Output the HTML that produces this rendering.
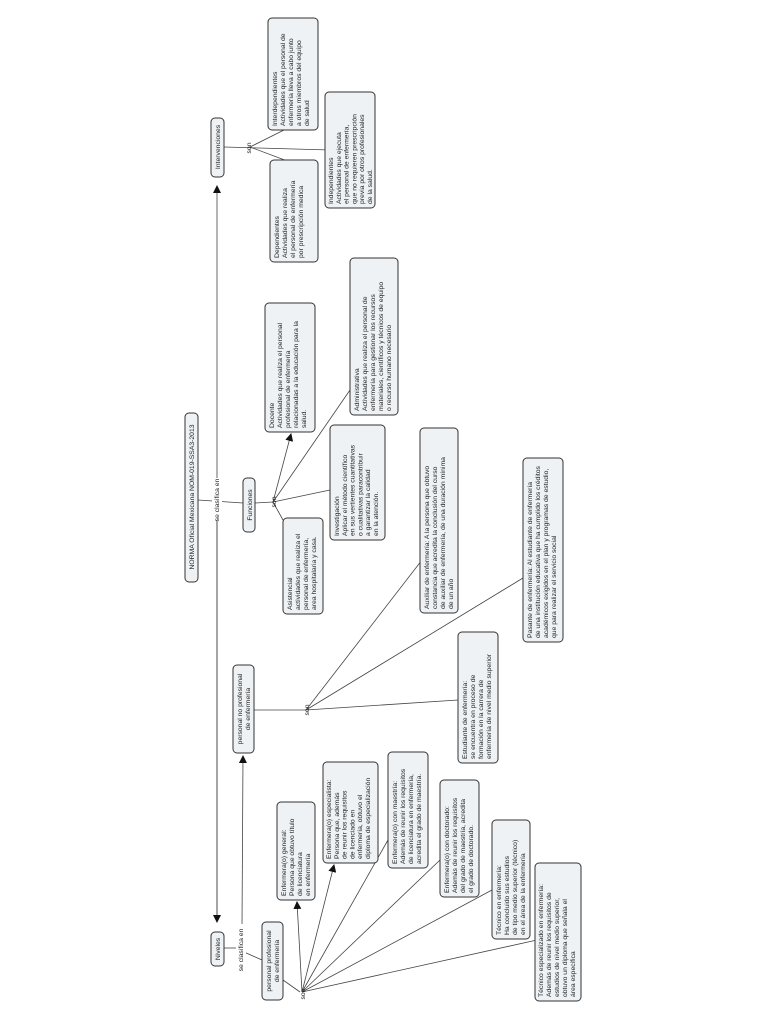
<!DOCTYPE html>
<html><head><meta charset="utf-8"><style>
html,body{margin:0;padding:0;background:#fff;}
svg{display:block;}
text{font-family:"Liberation Sans",sans-serif;font-size:6.8px;fill:#222;}
.b{fill:#eef2f5;stroke:#333;stroke-width:1;}
.l{stroke:#444;stroke-width:0.8;fill:none;}
</style></head><body>
<svg width="768" height="1024" viewBox="0 0 768 1024" xmlns="http://www.w3.org/2000/svg">
<defs><marker id="a" markerWidth="8" markerHeight="8" refX="7" refY="4" orient="auto" markerUnits="userSpaceOnUse"><path d="M0,0 L8,4 L0,8 z" fill="#111"/></marker></defs>

<line class="l" x1="217" y1="918" x2="217" y2="186" marker-end="url(#a)"/>
<line class="l" x1="217" y1="480" x2="217" y2="922" marker-end="url(#a)"/>
<line class="l" x1="198" y1="500" x2="243" y2="503"/>
<line class="l" x1="224" y1="147" x2="330" y2="150"/>
<line class="l" x1="250" y1="147" x2="288" y2="128"/>
<line class="l" x1="250" y1="147" x2="290" y2="162"/>
<line class="l" x1="255" y1="503" x2="273" y2="502"/>
<line class="l" x1="273" y1="502" x2="291" y2="434" marker-end="url(#a)"/>
<line class="l" x1="273" y1="502" x2="350" y2="390"/>
<line class="l" x1="273" y1="502" x2="330" y2="490"/>
<line class="l" x1="273" y1="502" x2="283" y2="520"/>
<line class="l" x1="224" y1="948" x2="236" y2="948"/>
<line class="l" x1="244" y1="952" x2="262" y2="960"/>
<line class="l" x1="242" y1="926" x2="243" y2="756" marker-end="url(#a)"/>
<line class="l" x1="254" y1="710" x2="306" y2="710"/>
<line class="l" x1="306" y1="710" x2="458" y2="700"/>
<line class="l" x1="306" y1="710" x2="422" y2="560"/>
<line class="l" x1="306" y1="710" x2="523" y2="578"/>
<line class="l" x1="283" y1="980" x2="300" y2="992"/>
<line class="l" x1="302" y1="992" x2="297" y2="902" marker-end="url(#a)"/>
<line class="l" x1="302" y1="992" x2="334" y2="865" marker-end="url(#a)"/>
<line class="l" x1="302" y1="992" x2="388" y2="840"/>
<line class="l" x1="302" y1="992" x2="440" y2="860"/>
<line class="l" x1="302" y1="992" x2="492" y2="890"/>
<line class="l" x1="302" y1="992" x2="537" y2="940"/>

<rect x="212" y="478" width="10" height="42" fill="#fff"/>
<text transform="translate(219,500) rotate(-90)" text-anchor="middle">se clasifica en</text>
<rect x="236" y="924" width="10" height="50" fill="#fff"/>
<text transform="translate(243,950) rotate(-90)" text-anchor="middle">se clasifica en</text>
<text transform="translate(251,148) rotate(-90)" text-anchor="middle" font-size="6">son</text>
<text transform="translate(276,502) rotate(-90)" text-anchor="middle" font-size="6">son</text>
<text transform="translate(309,710) rotate(-90)" text-anchor="middle" font-size="6">son</text>
<text transform="translate(305,994) rotate(-90)" text-anchor="middle" font-size="6">son</text>

<rect class="b" x="185" y="413" width="13" height="169" rx="4"/>
<text transform="translate(194,497) rotate(-90)" text-anchor="middle">NORMA Oficial Mexicana NOM-019-SSA3-2013</text>
<rect class="b" x="211" y="118" width="13" height="59" rx="4"/>
<text transform="translate(220,147) rotate(-90)" text-anchor="middle">Intervenciones</text>
<rect class="b" x="243" y="478" width="12" height="54" rx="4"/>
<text transform="translate(252,505) rotate(-90)" text-anchor="middle">Funciones</text>
<rect class="b" x="211" y="932" width="13" height="34" rx="4"/>
<text transform="translate(220,949) rotate(-90)" text-anchor="middle">Niveles</text>
<rect class="b" x="233" y="665" width="21" height="88" rx="4"/>
<text transform="translate(242,709) rotate(-90)" text-anchor="middle">personal no profesional</text>
<text transform="translate(250,709) rotate(-90)" text-anchor="middle">de enfermería</text>
<rect class="b" x="262" y="922" width="21" height="78" rx="4"/>
<text transform="translate(271,961) rotate(-90)" text-anchor="middle">personal profesional</text>
<text transform="translate(279,961) rotate(-90)" text-anchor="middle">de enfermería</text>

<rect class="b" x="268" y="18" width="50" height="112" rx="4"/>
<text transform="translate(277,126) rotate(-90)"><tspan x="0" dy="0">Interdependientes</tspan><tspan x="0" dy="8">Actividades que el personal de</tspan><tspan x="0" dy="8">enfermería lleva a cabo junto</tspan><tspan x="0" dy="8">a otros miembros del equipo</tspan><tspan x="0" dy="8">de salud</tspan></text>

<rect class="b" x="270" y="160" width="48" height="102" rx="4"/>
<text transform="translate(279,258) rotate(-90)"><tspan x="0" dy="0">Dependientes</tspan><tspan x="0" dy="8">Actividades que realiza</tspan><tspan x="0" dy="8">el personal de enfermería</tspan><tspan x="0" dy="8">por prescripción medica</tspan></text>

<rect class="b" x="325" y="92" width="50" height="116" rx="4"/>
<text transform="translate(333,204) rotate(-90)"><tspan x="0" dy="0">Independientes</tspan><tspan x="0" dy="7.8">Actividades que ejecuta</tspan><tspan x="0" dy="7.8">el personal de enfermería,</tspan><tspan x="0" dy="7.8">que no requieren prescripción</tspan><tspan x="0" dy="7.8">previa por otros profesionales</tspan><tspan x="0" dy="7.8">de la salud.</tspan></text>

<rect class="b" x="265" y="303" width="50" height="129" rx="4"/>
<text transform="translate(274,428) rotate(-90)"><tspan x="0" dy="0">Docente</tspan><tspan x="0" dy="8">Actividades que realiza el personal</tspan><tspan x="0" dy="8">profesional de enfermería</tspan><tspan x="0" dy="8">relacionadas a la educación para la</tspan><tspan x="0" dy="8">salud.</tspan></text>

<rect class="b" x="350" y="258" width="48" height="157" rx="4"/>
<text transform="translate(359,411) rotate(-90)"><tspan x="0" dy="0">Administrativa</tspan><tspan x="0" dy="8">Actividades que realiza el personal de</tspan><tspan x="0" dy="8">enfermería para gestionar los recursos</tspan><tspan x="0" dy="8">materiales, científicos y técnicos de equipo</tspan><tspan x="0" dy="8">o recurso humano necesario</tspan></text>

<rect class="b" x="330" y="425" width="55" height="115" rx="4"/>
<text transform="translate(339,536) rotate(-90)"><tspan x="0" dy="0">Investigación</tspan><tspan x="0" dy="7.8">Aplicar el método científico</tspan><tspan x="0" dy="7.8">en sus vertientes cuantitativas</tspan><tspan x="0" dy="7.8">o cualitativas paracontribuir</tspan><tspan x="0" dy="7.8">a garantizar la calidad</tspan><tspan x="0" dy="7.8">en la atención.</tspan></text>

<rect class="b" x="283" y="518" width="40" height="96" rx="4"/>
<text transform="translate(292,610) rotate(-90)"><tspan x="0" dy="0">Asistencial</tspan><tspan x="0" dy="8">actividades que realiza el</tspan><tspan x="0" dy="8">personal de enfermería,</tspan><tspan x="0" dy="8">area hospitalaria y casa.</tspan></text>

<rect class="b" x="420" y="428" width="38" height="185" rx="4"/>
<text transform="translate(429,609) rotate(-90)"><tspan x="0" dy="0">Auxiliar de enfermería: A la persona que obtuvo</tspan><tspan x="0" dy="8">constancia que acredita la conclusión del curso</tspan><tspan x="0" dy="8">de auxiliar de enfermería, de una duración mínima</tspan><tspan x="0" dy="8">de un año</tspan></text>

<rect class="b" x="523" y="458" width="40" height="184" rx="4"/>
<text transform="translate(532,638) rotate(-90)"><tspan x="0" dy="0">Pasante de enfermería: Al estudiante de enfermería</tspan><tspan x="0" dy="8">de una institución educativa que ha cumplido los créditos</tspan><tspan x="0" dy="8">académicos exigidos en el plan y programas de estudio,</tspan><tspan x="0" dy="8">que para realizar el servicio social</tspan></text>

<rect class="b" x="458" y="632" width="40" height="131" rx="4"/>
<text transform="translate(467,759) rotate(-90)"><tspan x="0" dy="0">Estudiante de enfermería:</tspan><tspan x="0" dy="8">se encuentra en proceso de</tspan><tspan x="0" dy="8">formación en la carrera de</tspan><tspan x="0" dy="8">enfermería de nivel medio superior</tspan></text>

<rect class="b" x="277" y="802" width="38" height="98" rx="4"/>
<text transform="translate(286,896) rotate(-90)"><tspan x="0" dy="0">Enfermera(o) general:</tspan><tspan x="0" dy="8">Persona que obtuvo título</tspan><tspan x="0" dy="8">de licenciatura</tspan><tspan x="0" dy="8">en enfermería</tspan></text>

<rect class="b" x="323" y="762" width="55" height="101" rx="4"/>
<text transform="translate(331,859) rotate(-90)"><tspan x="0" dy="0">Enfermera(o) especialista:</tspan><tspan x="0" dy="7.8">Persona que, además</tspan><tspan x="0" dy="7.8">de reunir los requisitos</tspan><tspan x="0" dy="7.8">de licenciado en</tspan><tspan x="0" dy="7.8">enfermería, obtuvo el</tspan><tspan x="0" dy="7.8">diploma de especialización</tspan></text>

<rect class="b" x="388" y="752" width="40" height="116" rx="4"/>
<text transform="translate(397,864) rotate(-90)"><tspan x="0" dy="0">Enfermera(o) con maestría:</tspan><tspan x="0" dy="8">Además de reunir los requisitos</tspan><tspan x="0" dy="8">de licenciatura en enfermería,</tspan><tspan x="0" dy="8">acredita el grado de maestría.</tspan></text>

<rect class="b" x="440" y="780" width="39" height="117" rx="4"/>
<text transform="translate(449,893) rotate(-90)"><tspan x="0" dy="0">Enfermera(o) con doctorado:</tspan><tspan x="0" dy="8">Además de reunir los requisitos</tspan><tspan x="0" dy="8">del grado de maestría, acredita</tspan><tspan x="0" dy="8">el grado de doctorado.</tspan></text>

<rect class="b" x="492" y="820" width="38" height="119" rx="4"/>
<text transform="translate(501,935) rotate(-90)"><tspan x="0" dy="0">Técnico en enfermería:</tspan><tspan x="0" dy="8">Ha concluido sus estudios</tspan><tspan x="0" dy="8">de tipo medio superior (técnico)</tspan><tspan x="0" dy="8">en el área de la enfermería</tspan></text>

<rect class="b" x="535" y="863" width="46" height="138" rx="4"/>
<text transform="translate(543,997) rotate(-90)"><tspan x="0" dy="0">Técnico especializado en enfermería:</tspan><tspan x="0" dy="8">Además de reunir los requisitos de</tspan><tspan x="0" dy="8">estudios de nivel medio superior,</tspan><tspan x="0" dy="8">obtuvo un diploma que señala el</tspan><tspan x="0" dy="8">área especifica</tspan></text>
</svg>
</body></html>
